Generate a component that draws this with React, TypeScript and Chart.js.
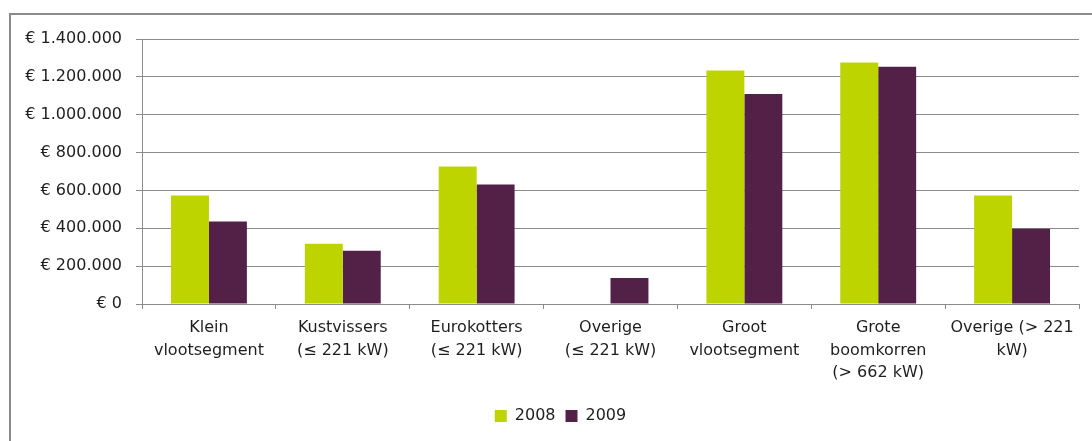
import React, { useEffect, useRef } from "react";
import { Chart, registerables } from "chart.js";

Chart.register(...registerables);

const categories: string[][] = [
  ["Klein", "vlootsegment"],
  ["Kustvissers", "(≤ 221 kW)"],
  ["Eurokotters", "(≤ 221 kW)"],
  ["Overige", "(≤ 221 kW)"],
  ["Groot", "vlootsegment"],
  ["Grote", "boomkorren", "(> 662 kW)"],
  ["Overige (> 221", "kW)"],
];

const series2008: number[] = [573000, 318000, 727000, 0, 1234000, 1276000, 573000];
const series2009: number[] = [436000, 281000, 631000, 138000, 1110000, 1253000, 398000];

const seriesLabels: string[] = ["2008", "2009"];
const yTicks: number[] = [0, 200000, 400000, 600000, 800000, 1000000, 1200000, 1400000];

const GREEN = "#bdd400";
const PURPLE = "#532147";
const TEXT = "#1e1e1e";
const GRID = "#8c8c8c";
const FONT = "'DejaVu Sans', Verdana, sans-serif";

function formatEuro(v: number): string {
  if (v === 0) return "€ 0";
  const s = Math.round(v).toString();
  let out = "";
  for (let i = 0; i < s.length; i++) {
    const fromEnd = s.length - i;
    out += s[i];
    if (fromEnd > 1 && (fromEnd - 1) % 3 === 0) out += ".";
  }
  return "€ " + out;
}

const shiftLegend = {
  id: "shiftLegend",
  afterLayout(chart: any) {
    const lg = chart.legend;
    if (lg) {
      lg.left += 21;
      lg.right += 21;
      if (lg.legendHitBoxes) {
        lg.legendHitBoxes.forEach((b: any) => (b.left += 21));
      }
    }
  },
};

export default function App() {
  const ref = useRef<HTMLCanvasElement | null>(null);

  useEffect(() => {
    if (!ref.current) return;
    const chart = new Chart(ref.current, {
      type: "bar",
      data: {
        labels: categories,
        datasets: [
          {
            label: seriesLabels[0],
            data: series2008,
            backgroundColor: GREEN,
            categoryPercentage: 0.567,
            barPercentage: 1,
          },
          {
            label: seriesLabels[1],
            data: series2009,
            backgroundColor: PURPLE,
            categoryPercentage: 0.567,
            barPercentage: 1,
          },
        ],
      },
      plugins: [shiftLegend],
      options: {
        responsive: false,
        animation: false,
        devicePixelRatio: 1,
        layout: { padding: { left: 0, right: 13, top: 39, bottom: 7 } },
        plugins: {
          tooltip: { enabled: false },
          legend: {
            position: "bottom",
            labels: {
              boxWidth: 12,
              boxHeight: 12,
              color: TEXT,
              font: { family: FONT, size: 16 },
              padding: 10,
            },
          },
        },
        scales: {
          x: {
            offset: true,
            grid: {
              offset: true,
              drawOnChartArea: false,
              drawTicks: true,
              tickLength: 5,
              color: GRID,
            },
            border: { display: true, color: GRID, width: 1 },
            ticks: {
              color: TEXT,
              font: { family: FONT, size: 16, lineHeight: 1.4 },
              maxRotation: 0,
              minRotation: 0,
              autoSkip: false,
              padding: 8,
            },
            afterFit: (scale: any) => {
              scale.height = 94;
            },
          },
          y: {
            min: 0,
            max: 1400000,
            afterBuildTicks: (scale: any) => {
              scale.ticks = yTicks.map((v) => ({ value: v }));
            },
            grid: {
              color: GRID,
              lineWidth: 1,
              drawTicks: true,
              tickLength: 6,
            },
            border: { display: true, color: GRID, width: 1 },
            ticks: {
              color: TEXT,
              font: { family: FONT, size: 16 },
              padding: 14,
              callback: (v: any) => formatEuro(Number(v)),
            },
            afterFit: (scale: any) => {
              scale.width = 142;
            },
          },
        },
      },
    });
    return () => chart.destroy();
  }, []);

  return (
    <div style={{ position: "absolute", left: 0, top: 0, width: 1092, height: 441, overflow: "hidden", background: "#fff" }}>
      <div
        style={{
          position: "absolute",
          left: 9,
          top: 13,
          width: 1200,
          height: 600,
          borderLeft: "2px solid #8a8a8a",
          borderTop: "2px solid #8a8a8a",
        }}
      />
      <canvas ref={ref} width={1092} height={441} style={{ position: "absolute", left: 0, top: 0 }} />
    </div>
  );
}
